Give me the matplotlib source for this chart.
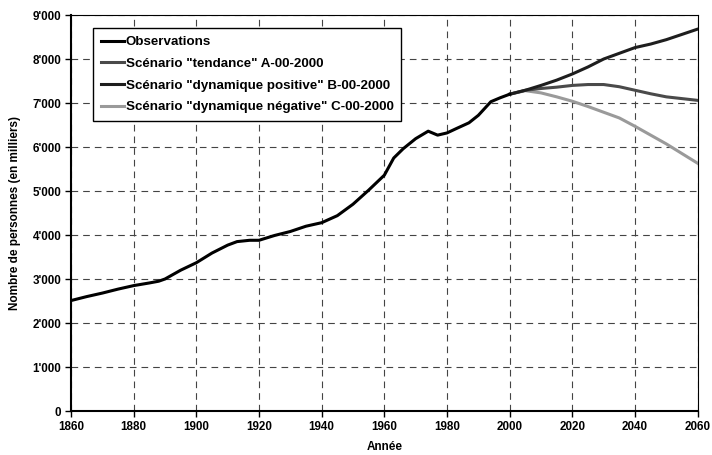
import matplotlib.pyplot as plt
import numpy as np

plt.rcParams['font.family'] = ['Liberation Sans', 'DejaVu Sans']
plt.rcParams['font.weight'] = 'bold'

# observations
obs_years = [1860, 1865, 1870, 1875, 1880, 1885, 1888, 1890, 1895, 1900, 1905, 1910, 1913, 1917,
             1920, 1925, 1930, 1935, 1940, 1945, 1950, 1955, 1960, 1963, 1966, 1970, 1974,
             1977, 1980, 1983, 1987, 1990, 1994, 1997, 2000]
obs_values = [2510, 2600, 2680, 2770, 2850, 2910, 2950, 3000, 3200, 3370, 3590, 3770, 3850, 3880,
              3880, 3990, 4080, 4200, 4280, 4440, 4700, 5020, 5360, 5750, 5960, 6190, 6360,
              6270, 6320, 6420, 6550, 6720, 7030, 7120, 7200]

# scenarios
scen_years = [2000, 2005, 2010, 2015, 2020, 2025, 2030, 2035, 2040, 2045, 2050, 2055, 2060]
scen_a = [7200, 7290, 7330, 7360, 7400, 7420, 7420, 7370, 7290, 7210, 7140, 7100, 7060]
scen_b = [7200, 7290, 7400, 7520, 7660, 7820, 8000, 8130, 8260, 8340, 8440, 8560, 8680]
scen_c = [7200, 7280, 7230, 7140, 7040, 6920, 6790, 6660, 6470, 6270, 6070, 5850, 5630]

labels = ['Observations',
          'Scénario "tendance" A-00-2000',
          'Scénario "dynamique positive" B-00-2000',
          'Scénario "dynamique négative" C-00-2000']

x_ticks = [1860, 1880, 1900, 1920, 1940, 1960, 1980, 2000, 2020, 2040, 2060]
y_ticks = [0, 1000, 2000, 3000, 4000, 5000, 6000, 7000, 8000, 9000]
y_ticklabels = ["0", "1'000", "2'000", "3'000", "4'000", "5'000", "6'000", "7'000", "8'000", "9'000"]

fig = plt.figure(figsize=(7.12, 4.55), dpi=100)
ax = fig.add_axes([0.0997, 0.0967, 0.8802, 0.8703])

lw = 2.2
ax.plot(scen_years, scen_c, color='#9a9a9a', lw=lw, zorder=3, label=labels[3])
ax.plot(scen_years, scen_a, color='#4a4a4a', lw=lw, zorder=4, label=labels[1])
ax.plot(scen_years, scen_b, color='#1e1e1e', lw=lw, zorder=5, label=labels[2])
ax.plot(obs_years, obs_values, color='black', lw=lw, zorder=6, label=labels[0])

ax.set_xlim(1860, 2060)
ax.set_ylim(0, 9000)
ax.set_xticks(x_ticks)
ax.set_yticks(y_ticks)
ax.set_yticklabels(y_ticklabels)
ax.tick_params(labelsize=8.4, length=4, width=1, direction='out', pad=3)

ax.grid(True, color='#444444', lw=0.8, linestyle=(0, (6, 4.5)))
ax.set_axisbelow(True)

for s in ['left', 'bottom']:
    ax.spines[s].set_linewidth(1.5)
for s in ['top', 'right']:
    ax.spines[s].set_linewidth(0.8)

ax.set_xlabel('Année', fontsize=8.5, fontweight='bold', labelpad=6)
ax.set_ylabel('Nombre de personnes (en milliers)', fontsize=8.5, fontweight='bold', labelpad=8)

h, l = ax.get_legend_handles_labels()
order = [3, 1, 2, 0]
leg = ax.legend([h[i] for i in order], [l[i] for i in order],
                loc='upper left', bbox_to_anchor=(0.035, 0.967), borderaxespad=0,
                fontsize=9.6, fancybox=False, framealpha=1, edgecolor='black',
                handlelength=1.7, handletextpad=0.15, labelspacing=0.7, borderpad=0.6)
leg.get_frame().set_linewidth(1)

plt.savefig('out.png', dpi=100)
